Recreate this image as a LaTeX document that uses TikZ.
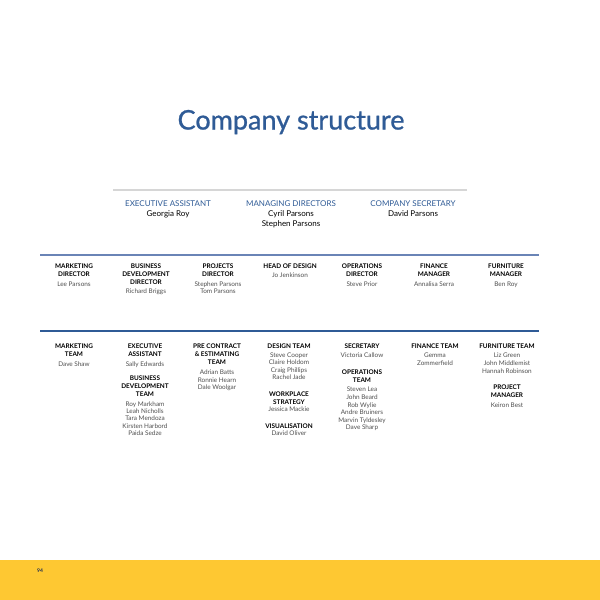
\documentclass[tikz,border=0pt]{standalone}
\usepackage{fontspec}
\setmainfont{Lato}
\newfontface\titlefont{Lato}[FakeBold=0.9]
\definecolor{titleblue}{HTML}{2F5B96}
\definecolor{lineblueA}{HTML}{6A84B6}
\definecolor{lineblueB}{HTML}{2F5B96}
\definecolor{rulegray}{HTML}{D6D6D6}
\definecolor{namegray}{HTML}{505050}
\definecolor{bandyellow}{HTML}{FEC832}
\definecolor{pagenavy}{HTML}{22304F}
\newcommand\hdr[1]{\textbf{\textcolor{black}{#1}}}
\newcommand\tophdr[1]{\textcolor{titleblue}{#1}}
\begin{document}
\begin{tikzpicture}[x=1pt,y=-1pt,
  blk/.style={anchor=north, inner sep=0pt, align=center, font=\fontsize{6.4}{7.8}\selectfont, text=namegray},
  topblk/.style={anchor=north, inner sep=0pt, align=center, font=\fontsize{8}{10}\selectfont, text=black},
  rule/.style={line width=2.6pt}]
\useasboundingbox (0,0) rectangle (600,600);
\fill[white] (0,0) rectangle (600,600);
\fill[bandyellow] (0,560) rectangle (600,600);
\node[anchor=base, inner sep=0pt, font=\bfseries\fontsize{5}{6}\selectfont, text=pagenavy] (pg) at (40,572) {94};

% title
\node[anchor=base, inner sep=0pt, font=\titlefont\fontsize{27}{30}\selectfont, text=titleblue] (title) at (291,129.5) {Company structure};

% rules
\coordinate (g1) at (113,190); \coordinate (g2) at (467,190);
\draw[rule, rulegray, line width=2.2pt] (g1) -- (g2);
\coordinate (a1) at (40,255); \coordinate (a2) at (539,255);
\draw[rule, lineblueA] (a1) -- (a2);
\coordinate (b1) at (40,331); \coordinate (b2) at (539,331);
\draw[rule, lineblueB] (b1) -- (b2);

% top row
\node[topblk] (ea) at (168,200) {\tophdr{EXECUTIVE ASSISTANT}\\[0pt]Georgia Roy};
\node[topblk] (md) at (291,200) {\tophdr{MANAGING DIRECTORS}\\[0pt]Cyril Parsons\\Stephen Parsons};
\node[topblk] (cs) at (413,200) {\tophdr{COMPANY SECRETARY}\\[0pt]David Parsons};

% directors row
\node[blk] (r1) at (74,263.7) {\hdr{MARKETING}\\\hdr{DIRECTOR}\\[2pt]Lee Parsons};
\node[blk] (r2) at (146,263.7) {\hdr{BUSINESS}\\\hdr{DEVELOPMENT}\\[0.6pt]\hdr{DIRECTOR}\\[1.2pt]Richard Briggs};
\node[blk] (r3) at (218,263.7) {\hdr{PROJECTS}\\\hdr{DIRECTOR}\\[2.5pt]Stephen Parsons\\[-0.6pt]Tom Parsons};
\node[blk] (r4) at (290,263.7) {\hdr{HEAD OF DESIGN}\\[1.5pt]Jo Jenkinson};
\node[blk] (r5) at (362,263.7) {\hdr{OPERATIONS}\\\hdr{DIRECTOR}\\[2pt]Steve Prior};
\node[blk] (r6) at (434,263.7) {\hdr{FINANCE}\\\hdr{MANAGER}\\[2pt]Annalisa Serra};
\node[blk] (r7) at (506,263.7) {\hdr{FURNITURE}\\\hdr{MANAGER}\\[2pt]Ben Roy};

% teams row
\node[blk] (c1) at (74,343.7) {\hdr{MARKETING}\\\hdr{TEAM}\\[2pt]Dave Shaw};
\node[blk] (c2) at (145,343.7) {\hdr{EXECUTIVE}\\\hdr{ASSISTANT}\\[2pt]Sally Edwards\\[7pt]\hdr{BUSINESS}\\\hdr{DEVELOPMENT}\\\hdr{TEAM}\\[2pt]Roy Markham\\[-0.5pt]Leah Nicholls\\[-0.5pt]Tara Mendoza\\[-0.5pt]Kirsten Harbord\\[-0.5pt]Paida Sedze};
\node[blk] (c3) at (217,343.7) {\hdr{PRE CONTRACT}\\\hdr{\& ESTIMATING}\\[0.5pt]\hdr{TEAM}\\[2.5pt]Adrian Batts\\[-0.5pt]Ronnie Hearn\\[-0.5pt]Dale Woolgar};
\node[blk] (c4) at (289,343.7) {\hdr{DESIGN TEAM}\\[1.2pt]Steve Cooper\\[-0.5pt]Claire Holdom\\[-0.5pt]Craig Phillips\\[-0.5pt]Rachel Jade\\[9pt]\hdr{WORKPLACE}\\\hdr{STRATEGY}\\Jessica Mackie\\[9pt]\hdr{VISUALISATION}\\[-0.5pt]David Oliver};
\node[blk] (c5) at (362,343.7) {\hdr{SECRETARY}\\[1.2pt]Victoria Callow\\[9pt]\hdr{OPERATIONS}\\\hdr{TEAM}\\[2pt]Steven Lea\\John Beard\\[-0.3pt]Rob Wylie\\[-0.3pt]Andre Bruiners\\[-0.3pt]Marvin Tyldesley\\[-0.3pt]Dave Sharp};
\node[blk] (c6) at (435,343.7) {\hdr{FINANCE TEAM}\\[1.2pt]Gemma\\Zommerfield};
\node[blk] (c7) at (507,343.7) {\hdr{FURNITURE TEAM}\\[1.2pt]Liz Green\\John Middlemist\\Hannah Robinson\\[9pt]\hdr{PROJECT}\\\hdr{MANAGER}\\[2pt]Keiron Best};
\end{tikzpicture}
\end{document}
